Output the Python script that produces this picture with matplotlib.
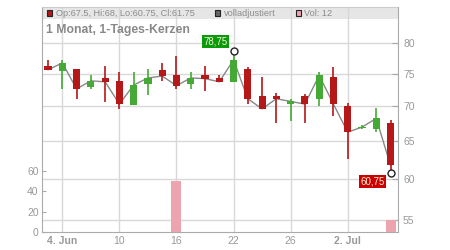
import numpy as np
import matplotlib
matplotlib.use('Agg')
import matplotlib.pyplot as plt
from matplotlib.patches import Rectangle

plt.rcParams['font.family'] = ['Liberation Sans', 'DejaVu Sans']

# daily candles, one per trading day
opens = [76.2, 75.45, 75.7, 72.95, 74.3, 73.85, 70.2, 73.4, 75.55, 74.75,
         73.4, 74.75, 74.3, 73.7, 75.7, 71.5, 71.5, 70.3, 71.5, 71.0,
         74.45, 70.0, 66.8, 66.65, 67.5]
highs = [77.2, 77.2, 75.7, 74.75, 76.2, 75.25, 75.25, 75.7, 76.7, 77.85,
         75.25, 76.2, 74.75, 78.75, 76.0, 74.45, 71.9, 71.0, 71.75, 75.25,
         76.0, 70.5, 67.2, 69.7, 68.0]
lows = [75.6, 72.6, 71.1, 72.6, 70.65, 69.6, 70.2, 71.7, 73.85, 72.6,
        72.6, 72.3, 73.7, 73.7, 70.3, 69.6, 67.6, 67.9, 67.5, 70.0,
        68.6, 62.6, 66.65, 66.25, 60.75]
closes = [75.6, 76.7, 72.6, 73.85, 73.7, 70.3, 73.2, 74.3, 74.6, 73.1,
          74.3, 74.2, 73.7, 77.2, 71.1, 69.6, 71.1, 70.7, 70.3, 74.7,
          70.3, 66.25, 66.95, 68.2, 61.75]
volumes = [0, 0, 0, 0, 0, 0, 0, 0, 0, 50,
           0, 0, 0, 0, 0, 0, 0, 0, 0, 0,
           0, 0, 0, 0, 12]

tick_idx = [1, 5, 9, 13, 17, 21]
tick_labels = ['4. Jun', '10', '16', '22', '26', '2. Jul']
price_ticks = [55, 60, 65, 70, 75, 80]
vol_ticks = [0, 20, 40, 60]

RED = '#b41818'
GREEN = '#45aa35'
PINK = '#eca4ae'
GRID = '#d8d8d8'
TXT = '#999999'

fig = plt.figure(figsize=(4.5, 2.5), dpi=100)
pos = [41.5 / 450, 1 - 232 / 250, 356 / 450, 225 / 250]

# price axis (drawn first, holds the grid)
ax = fig.add_axes(pos)
ax.set_yscale('log')
ax.set_xlim(-0.46, 24.49)
ax.set_ylim(53.62, 86.35)
ax.set_axisbelow(True)

x = np.arange(len(opens))
ax.plot(x, closes, color='#888888', lw=1, zorder=2)
for i in x:
    col = GREEN if closes[i] >= opens[i] else RED
    ax.vlines(i, lows[i], highs[i], color=col, lw=1.2, zorder=3)
    lo, hi = min(opens[i], closes[i]), max(opens[i], closes[i])
    ax.bar(i, hi - lo, bottom=lo, width=0.5, color=col, zorder=3)

# max / min markers
imax = int(np.argmax(highs))
imin = int(np.argmin(lows))
ax.plot([imax, imin], [highs[imax], lows[imin]], 'o', ms=5, mfc='white',
        mec='#222222', mew=1, zorder=4)
ax.annotate('78,75', xy=(imax, highs[imax]), xytext=(-4, 6.5),
            textcoords='offset points', ha='right', va='center', fontsize=7,
            color='#f4f4d8', zorder=5,
            bbox=dict(boxstyle='square,pad=0.15', fc='#0a9a0a', ec='none'))
ax.annotate('60,75', xy=(imin, lows[imin]), xytext=(-4, -6),
            textcoords='offset points', ha='right', va='center', fontsize=7,
            color='#f4f4d8', zorder=5,
            bbox=dict(boxstyle='square,pad=0.15', fc='#cc0000', ec='none'))

ax.yaxis.tick_right()
ax.set_yticks(price_ticks)
ax.set_yticklabels([str(t) for t in price_ticks])
ax.yaxis.set_minor_locator(matplotlib.ticker.NullLocator())
ax.set_xticks(tick_idx)
ax.set_xticklabels(tick_labels)
for lab in ax.get_xticklabels():
    if '.' in lab.get_text():
        lab.set_fontweight('bold')
ax.tick_params(axis='y', direction='in', length=4, color='#aaaaaa',
               labelcolor=TXT, labelsize=7.5, pad=4)
ax.tick_params(axis='x', length=0, labelcolor=TXT, labelsize=7.5, pad=3)
ax.grid(True, color=GRID, lw=1)

for side in ['left', 'right', 'bottom']:
    ax.spines[side].set_color('#aaaaaa')
ax.spines['top'].set_color('#cccccc')

# header band
ax.add_patch(Rectangle((0, (232 - 19) / 225), 1, 12 / 225,
                       transform=ax.transAxes, fc='#e6e6e6', ec='none',
                       zorder=0.2))

# volume axis on top, left ticks
axv = fig.add_axes(pos, sharex=ax)
axv.set_facecolor('none')
axv.bar(x, volumes, width=0.7, color=PINK, zorder=3)
axv.set_ylim(0, 221.3)
axv.set_yticks(vol_ticks)
axv.tick_params(axis='y', direction='in', length=3, color='#aaaaaa',
                labelcolor=TXT, labelsize=7.5, pad=2)
axv.tick_params(axis='x', bottom=False, labelbottom=False)
for s in axv.spines.values():
    s.set_visible(False)

# header legend and title
def px(xp, yp):
    return xp / 450, 1 - yp / 250

def square(xp, yp, col):
    fig.patches.append(Rectangle(px(xp, yp + 5), 5 / 450, 5 / 250,
                                 transform=fig.transFigure, fc=col,
                                 ec='#222222', lw=0.8))

square(47, 10.5, RED)
fig.text(*px(55.5, 13.5), 'Op:67.5, Hi:68, Lo:60.75, Cl:61.75', fontsize=6.6,
         color='#8c8c8c', va='center')
square(215, 10.5, '#666666')
fig.text(*px(223.5, 13.5), 'volladjustiert', fontsize=6.6, color='#8c8c8c',
         va='center')
square(296, 10.5, PINK)
fig.text(*px(304.5, 13.5), 'Vol: 12', fontsize=6.6, color='#8c8c8c',
         va='center')
fig.text(*px(46.5, 30), '1 Monat, 1-Tages-Kerzen', fontsize=8.8,
         color='#888888', fontweight='bold', va='center')

fig.savefig('out.png', dpi=100)
